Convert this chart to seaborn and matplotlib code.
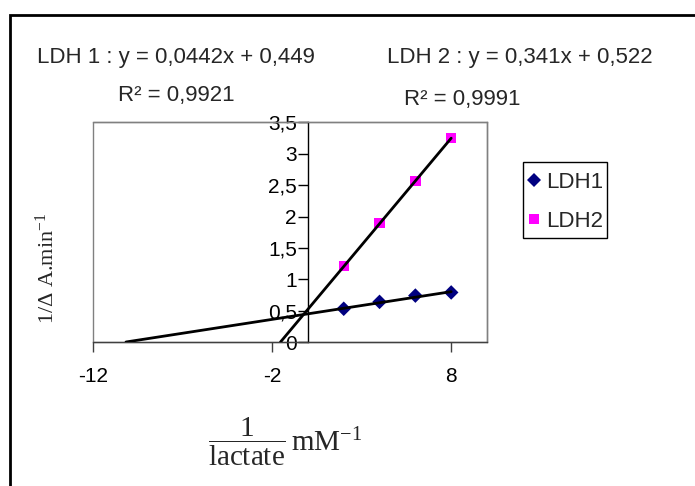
import pandas as pd
import seaborn as sns
import matplotlib.pyplot as plt
from matplotlib.patches import Rectangle

# inverse lactate concentration (mM-1) and 1/dA.min-1
inv_lactate = [2, 4, 6, 8]
ldh1_values = [0.53, 0.64, 0.74, 0.79]
ldh2_values = [1.21, 1.90, 2.57, 3.25]

# trendline coefficients shown on the chart
ldh1_fit = (0.0442, 0.449)
ldh2_fit = (0.341, 0.522)

x_ticks = [-12, -2, 8]
y_ticks = [0, 0.5, 1, 1.5, 2, 2.5, 3, 3.5]
y_tick_labels = ['0', '0,5', '1', '1,5', '2', '2,5', '3', '3,5']

sns.set_theme(style='white')
plt.rcParams['font.family'] = ['Liberation Sans', 'DejaVu Sans']
plt.rcParams['mathtext.fontset'] = 'custom'
plt.rcParams['mathtext.rm'] = 'Liberation Serif'
plt.rcParams['mathtext.it'] = 'Liberation Serif:italic'
plt.rcParams['mathtext.bf'] = 'Liberation Serif:bold'

points = pd.DataFrame({
    'x': inv_lactate * 2,
    'y': ldh1_values + ldh2_values,
    'serie': ['LDH1'] * len(inv_lactate) + ['LDH2'] * len(inv_lactate),
})

fig = plt.figure(figsize=(6.95, 4.86), dpi=100)
ax = fig.add_axes([93 / 695, 1 - 342 / 486, 394 / 695, 219.5 / 486])

# trendlines from the fitted equations, forecast back to where they meet y = 0
x_min, x_max = x_ticks[0], inv_lactate[-1]
for slope, icpt in (ldh1_fit, ldh2_fit):
    xs = [max(x_min, -icpt / slope), x_max]
    ys = [slope * v + icpt for v in xs]
    sns.lineplot(x=xs, y=ys, ax=ax, color='black', linewidth=2, zorder=3)

sns.scatterplot(data=points, x='x', y='y', hue='serie', style='serie',
                markers={'LDH1': 'D', 'LDH2': 's'},
                palette={'LDH1': '#000080', 'LDH2': '#FF00FF'},
                s=55, linewidth=0, ax=ax, zorder=2)

# y axis crosses at x = 0 (set before the tick labels, it resets the ticks)
ax.spines['left'].set_position(('data', 0))

ax.set_xlim(-12, 10)
ax.set_ylim(0, 3.5)
ax.set_xticks(x_ticks)
ax.set_xticklabels([str(t) for t in x_ticks])
ax.set_yticks(y_ticks)
ax.set_yticklabels(y_tick_labels)
ax.set_xlabel('')
ax.set_ylabel('')

ax.spines['left'].set_color('black')
ax.spines['bottom'].set_color('#404040')
ax.spines['top'].set_color('#808080')
ax.spines['right'].set_color('#808080')
for sp in ax.spines.values():
    sp.set_linewidth(1)
ax.add_patch(Rectangle((0, 0), 1, 1, transform=ax.transAxes, fill=False,
                       edgecolor='#808080', linewidth=1, clip_on=False, zorder=0))
ax.tick_params(axis='y', direction='out', length=7, width=1, color='black', pad=1,
               left=True, labelcolor='black', labelsize=15)
ax.tick_params(axis='x', direction='out', length=7, width=1, color='#404040', pad=11,
               bottom=True, labelcolor='black', labelsize=15)

# legend entries without their own frame; the Excel-like box is drawn below
leg = ax.legend(loc='upper left', bbox_to_anchor=(526 / 695, 1 - 172 / 486),
                bbox_transform=fig.transFigure, frameon=False,
                fontsize=16, handletextpad=0.2, borderpad=0, labelspacing=0.8,
                handlelength=0.7, borderaxespad=0)
fig.patches.append(Rectangle((523 / 695, 1 - 238 / 486), 84 / 695, 76 / 486,
                             transform=fig.transFigure, fill=False,
                             edgecolor='black', linewidth=1))

# equations of the trendlines
fig.text(176 / 695, 1 - 58 / 486, 'LDH 1 : y = 0,0442x + 0,449', fontsize=16,
         ha='center', va='center')
fig.text(176 / 695, 1 - 96 / 486, 'R² = 0,9921', fontsize=16, ha='center', va='center')
fig.text(520 / 695, 1 - 58 / 486, 'LDH 2 : y = 0,341x + 0,522', fontsize=16,
         ha='center', va='center')
fig.text(462 / 695, 1 - 99 / 486, 'R² = 0,9991', fontsize=16, ha='center', va='center')

# axis titles
fig.text(47 / 695, 1 - 268 / 486, r'1/Δ A.min$^{-1}$', rotation=90, fontsize=16,
         family='Liberation Serif', ha='center', va='center')
fig.text(285 / 695, 1 - 442 / 486, r'$\dfrac{1}{\mathrm{lactate}}\,\mathrm{mM}^{-1}$',
         fontsize=21, ha='center', va='center')

# outer chart border, cut by the image edges
fig.patches.append(Rectangle((10 / 695, -0.1), 1.2, 1 - 15 / 486 + 0.1,
                             transform=fig.transFigure, fill=False,
                             edgecolor='black', linewidth=2))

fig.savefig('out.png', dpi=100)
